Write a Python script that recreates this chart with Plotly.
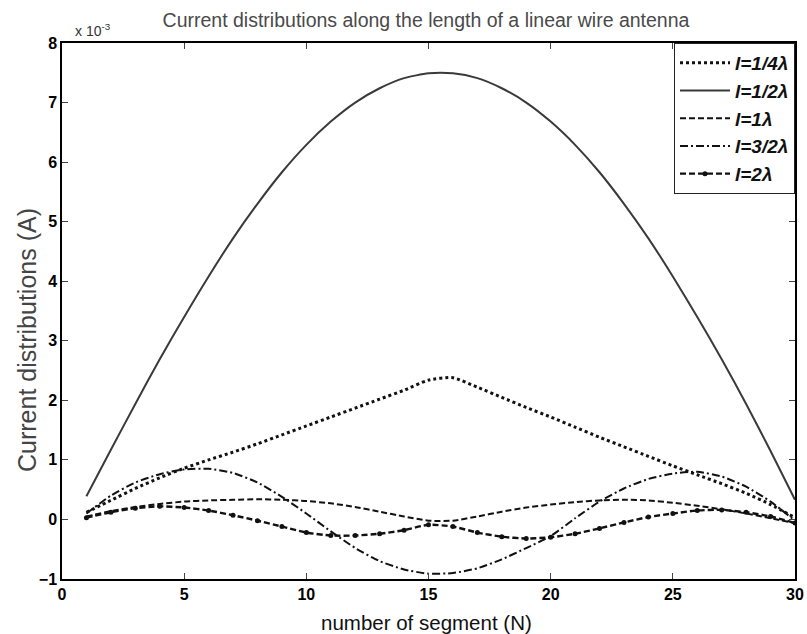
import plotly.graph_objects as go

N = list(range(1, 31))

# current values in units of 1e-3 A
I_quarter = [0.12, 0.32, 0.52, 0.70, 0.86, 1.00, 1.13, 1.27, 1.42, 1.57,
             1.72, 1.87, 2.02, 2.17, 2.34, 2.38, 2.22, 2.05, 1.88, 1.72,
             1.55, 1.38, 1.22, 1.06, 0.90, 0.75, 0.60, 0.44, 0.25, 0.03]
I_half = [0.39, 1.17, 1.94, 2.69, 3.40, 4.08, 4.72, 5.30, 5.83, 6.29,
          6.68, 7.00, 7.24, 7.41, 7.49, 7.49, 7.41, 7.24, 7.00, 6.68,
          6.29, 5.83, 5.30, 4.72, 4.08, 3.40, 2.69, 1.94, 1.15, 0.33]
I_one = [0.05, 0.14, 0.21, 0.26, 0.30, 0.32, 0.33, 0.34, 0.33, 0.31,
         0.27, 0.21, 0.13, 0.05, -0.02, -0.02, 0.05, 0.13, 0.20, 0.25,
         0.29, 0.32, 0.33, 0.32, 0.28, 0.23, 0.17, 0.10, 0.02, -0.06]
I_three_half = [0.10, 0.40, 0.62, 0.76, 0.84, 0.85, 0.78, 0.62, 0.38, 0.10,
                -0.20, -0.48, -0.70, -0.84, -0.91, -0.90, -0.82, -0.67, -0.48, -0.28,
                0.02, 0.30, 0.52, 0.68, 0.77, 0.80, 0.72, 0.55, 0.30, -0.02]
I_two = [0.03, 0.12, 0.19, 0.22, 0.20, 0.15, 0.07, -0.02, -0.12, -0.22,
         -0.27, -0.27, -0.24, -0.18, -0.09, -0.12, -0.22, -0.29, -0.32, -0.30,
         -0.24, -0.15, -0.05, 0.04, 0.10, 0.15, 0.16, 0.12, 0.05, -0.06]

names = ["l=1/4λ", "l=1/2λ", "l=1λ", "l=3/2λ", "l=2λ"]
series = [I_quarter, I_half, I_one, I_three_half, I_two]
styles = [
    dict(dash="dot", width=3, color="#111111"),
    dict(dash="solid", width=2, color="#3a3a3a"),
    dict(dash="6px,3px", width=2, color="#111111"),
    dict(dash="8px,3px,2px,3px", width=2, color="#111111"),
    dict(dash="6px,3px", width=2.4, color="#111111"),
]

x_ticks = [0, 5, 10, 15, 20, 25, 30]
y_ticks = [-1, 0, 1, 2, 3, 4, 5, 6, 7, 8]

fig = go.Figure()
for i, (nm, ys, st) in enumerate(zip(names, series, styles)):
    mode = "lines+markers" if i == 4 else "lines"
    fig.add_trace(go.Scatter(
        x=N, y=ys, name="<b><i>" + nm + "</i></b>", mode=mode,
        line=dict(shape="spline", smoothing=0.6, **st),
        marker=dict(size=5, color="#111111"),
        legendgroup="g%d" % i,
    ))

font = "Liberation Sans, Arial, sans-serif"
fig.update_layout(
    width=807, height=634,
    margin=dict(l=62, r=12, t=43, b=55),
    paper_bgcolor="white", plot_bgcolor="white",
    font=dict(family=font, size=16, color="black"),
    title=dict(text="Current distributions along the length of a linear wire antenna",
               x=426 / 807, xanchor="center", y=1 - 20 / 634, yanchor="middle",
               font=dict(size=19.5, color="#4a4a4a")),
    showlegend=True,
    legend=dict(x=1, xanchor="right", y=1, yanchor="top",
                bgcolor="white", bordercolor="#222222", borderwidth=1,
                font=dict(size=19, color="#111111"),
                itemwidth=50, tracegroupgap=0),
    xaxis=dict(range=[0, 30], tickvals=x_ticks, ticks="inside", ticklen=6,
               showline=True, linecolor="black", linewidth=1.5, mirror="ticks",
               showgrid=False, zeroline=False, automargin=False,
               tickfont=dict(size=16, color="black", weight="bold")),
    yaxis=dict(range=[-1, 8], tickvals=y_ticks, ticks="inside", ticklen=6,
               showline=True, linecolor="black", linewidth=1.5, mirror="ticks",
               showgrid=False, zeroline=False, automargin=False,
               tickfont=dict(size=16, color="black", weight="bold")),
    annotations=[
        dict(text="x 10<sup>-3</sup>", xref="paper", yref="paper",
             x=0.015, y=1, xanchor="left", yanchor="bottom", yshift=2,
             showarrow=False, font=dict(size=14, color="#333333")),
        dict(text="Current distributions (A)", xref="paper", yref="paper",
             x=(27 - 62) / 733, y=(579 - 340) / 536, xanchor="center", yanchor="middle",
             textangle=-90, showarrow=False,
             font=dict(size=25, color="#444444")),
        dict(text="number of segment (N)", xref="paper", yref="paper",
             x=(426 - 62) / 733, y=(579 - 622) / 536, xanchor="center", yanchor="middle",
             showarrow=False, font=dict(size=20.5, color="#111111")),
    ],
)

fig.write_html("out.html")
